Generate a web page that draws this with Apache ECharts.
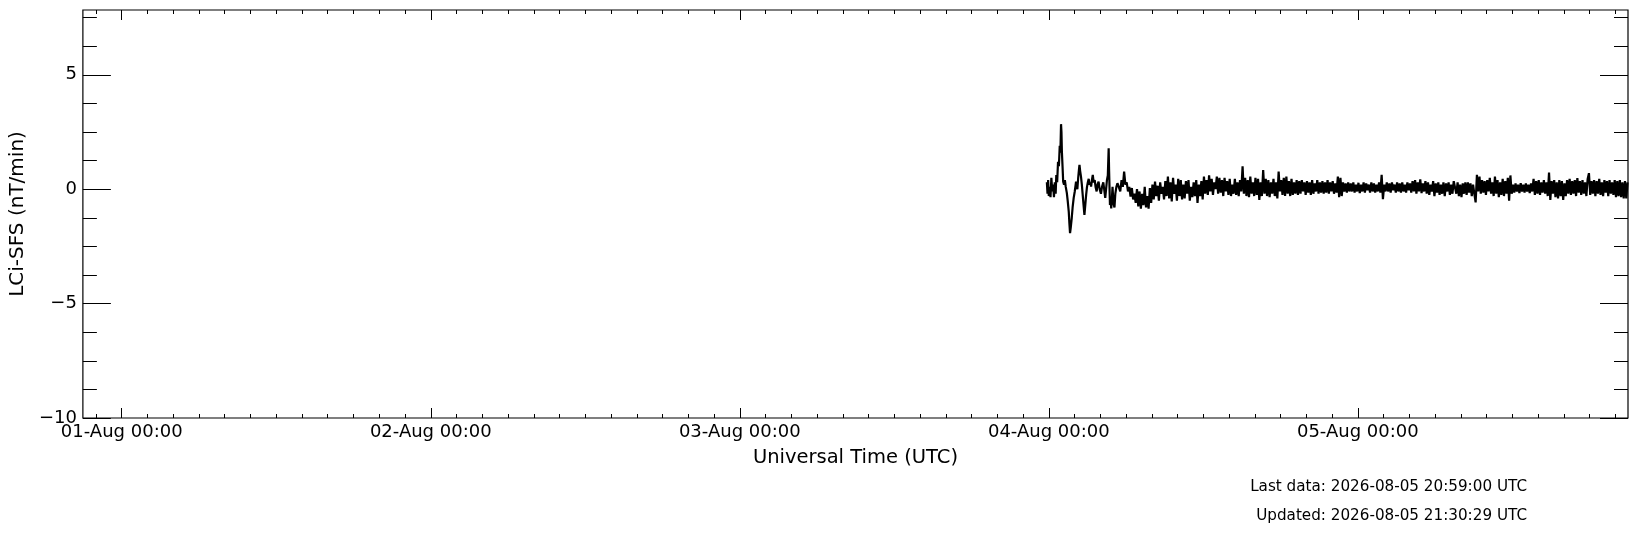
<!DOCTYPE html>
<html>
<meta charset="utf-8" />

<head>
  <script src="https://cdn.jsdelivr.net/npm/echarts@6.0.0/dist/echarts.min.js"></script>
  <style>
    html, body { margin: 0; padding: 0; background: #fff; }
    .chart { width: 1637px; height: 533px; }
  </style>
</head>

<body>
  <div class="chart" id="chart-sfs"></div>
  <script>
    // 5-day window that ends on the last data point
    const xStart = '2026-07-31T20:59:00Z';
    const xEnd = '2026-08-05T20:59:00Z';
    const dataStart = '2026-08-03T23:51:00Z';

    const xTickDays = ['2026-08-01T00:00:00Z', '2026-08-02T00:00:00Z', '2026-08-03T00:00:00Z',
      '2026-08-04T00:00:00Z', '2026-08-05T00:00:00Z'];
    const xTickLabels = ['01-Aug 00:00', '02-Aug 00:00', '03-Aug 00:00', '04-Aug 00:00', '05-Aug 00:00'];
    const xMinorHours = 2;

    const yMin = -10;
    const yMax = 7.83;
    const yMajorTicks = [-10, -5, 0, 5];
    const yMinorTicks = [-8.75, -7.5, -6.25, -3.75, -2.5, -1.25, 1.25, 2.5, 3.75, 6.25, 7.5];

    // disturbed start, minutes after dataStart
    const stormMinutes = [0, 3, 6, 9, 13, 17, 21, 25, 29, 33, 37, 41, 44, 48, 52, 56, 60, 63, 66, 68,
      70, 73, 76, 80, 84, 88, 93, 97, 102, 105, 108, 111, 116, 120, 125, 130, 136, 139, 142, 146,
      150, 152, 155, 159, 163, 167, 171, 175, 179, 183, 187, 191, 195, 199, 203, 206, 210, 214, 218, 223,
      227, 232, 236, 241, 246, 252, 257, 263, 267, 272, 276, 280, 284, 288, 290, 294, 297, 300, 303, 306,
      310, 315, 319, 324, 329];
    const stormValues = [0.3, -0.2, 0.4, -0.3, 0.1, -0.35, 0.5, -0.1, 0.2, -0.35, 0.3, -0.2, 0.62, 0.3, 1.2, 1.0, 1.9, 1.6, 2.84, 2.5,
      1.64, 1.0, 0.33, 0.2, 0.4, 0.1, -0.16, -0.5, -0.98, -1.5, -1.92, -1.7, -1.25, -0.8, -0.38, -0.1, 0.33, 0.1, 0.0, 0.5,
      0.9, 1.06, 0.8, 0.55, 0.2, -0.25, -0.7, -1.12, -0.7, -0.25, 0.1, 0.3, 0.45, 0.2, 0.3, 0.11, 0.4, 0.62, 0.3, 0.4,
      0.1, -0.1, 0.2, 0.33, 0.0, -0.2, 0.1, 0.3, 0.0, -0.38, 0.0, 0.4, 0.6, 1.79, 0.8, -0.69, -0.5, -0.84, -0.4, 0.1,
      -0.6, -0.8, -0.2, 0.1, 0.26];

    // quieter part, one value every 6 minutes from minute 336
    const quietStartMinute = 336;
    const quietStepMinutes = 6;
    const quietValues = [
      0.3, -0.1, 0.4, 0.1, 0.77, 0.2, 0.3, -0.1, 0.1, -0.32,
      0.05, -0.45, -0.2, -0.6, 0.0, -0.75, -0.1, -0.85, -0.2, -0.7,
      0.1, -0.8, -0.3, -0.85, 0.05, -0.6, 0.2, -0.45, 0.33, -0.3,
      0.15, -0.5, 0.3, -0.2, 0.1, -0.45, 0.35, -0.3, 0.55, -0.4,
      0.3, -0.54, 0.5, -0.2, 0.2, -0.5, 0.45, -0.3, 0.4, -0.45,
      0.2, -0.4, 0.35, -0.2, 0.4, -0.5, 0.1, -0.35, 0.3, -0.3,
      0.4, -0.6, 0.2, -0.3, 0.35, -0.45, 0.55, -0.2, 0.4, -0.25,
      0.6, -0.1, 0.45, -0.25, 0.3, 0.0, 0.55, -0.2, 0.5, -0.15,
      0.4, -0.3, 0.5, -0.1, 0.35, -0.25, 0.45, -0.3, 0.2, -0.2,
      0.45, -0.25, 0.3, -0.3, 0.4, -0.1, 1.0, -0.2, 0.5, -0.3,
      0.4, -0.35, 0.55, -0.2, 0.3, -0.3, 0.5, -0.25, 0.45, -0.47,
      0.3, -0.3, 0.84, -0.2, 0.45, -0.3, 0.4, -0.35, 0.3, -0.2,
      0.45, -0.3, 0.3, -0.4, 0.77, -0.1, 0.4, -0.25, 0.5, -0.3,
      0.55, -0.2, 0.35, -0.3, 0.45, -0.25, 0.3, -0.2, 0.4, -0.25,
      0.35, -0.2, 0.4, -0.1, 0.3, -0.25, 0.35, -0.15, 0.3, -0.25,
      0.4, -0.2, 0.25, -0.1, 0.4, -0.2, 0.3, -0.15, 0.35, -0.2,
      0.3, -0.15, 0.4, -0.2, 0.3, -0.1, 0.35, -0.2, 0.25, -0.15,
      0.55, -0.35, 0.5, -0.3, 0.3, -0.1, 0.25, -0.15, 0.3, -0.1,
      0.25, -0.1, 0.3, -0.15, 0.2, -0.1, 0.28, -0.17, 0.2, -0.1,
      0.3, -0.15, 0.25, -0.05, 0.2, -0.15, 0.3, -0.1, 0.25, -0.15,
      0.2, -0.1, 0.3, -0.15, 0.63, -0.44, 0.2, -0.1, 0.3, -0.1,
      0.25, -0.15, 0.3, -0.05, 0.2, -0.15, 0.3, -0.1, 0.25, -0.15,
      0.3, -0.1, 0.2, -0.15, 0.3, -0.05, 0.25, -0.15, 0.35, -0.1,
      0.4, -0.2, 0.3, -0.1, 0.43, -0.17, 0.25, -0.1, 0.35, -0.2,
      0.3, -0.25, 0.2, -0.1, 0.35, -0.3, 0.25, -0.15, 0.3, -0.25,
      0.2, -0.2, 0.3, -0.3, 0.25, -0.1, 0.3, -0.25, 0.2, -0.2,
      0.35, 0.4, -0.2, 0.3, -0.3, 0.2, -0.35, 0.25, -0.2, 0.3,
      -0.25, 0.3, -0.15, 0.25, -0.3, 0.2, -0.2, -0.58, 0.63, -0.1,
      0.55, -0.2, 0.4, -0.15, 0.35, -0.25, 0.4, -0.1, 0.5, -0.2,
      0.3, -0.3, 0.55, -0.2, 0.4, -0.35, 0.3, -0.25, 0.45, -0.3,
      0.35, -0.2, 0.5, -0.5, 0.6, -0.2, 0.2, -0.15, 0.25, -0.1,
      0.2, -0.17, 0.26, -0.1, 0.2, -0.15, 0.25, -0.1, 0.2, -0.17,
      0.25, -0.1, 0.45, -0.25, 0.35, -0.2, 0.4, -0.25, 0.3, -0.15,
      0.4, -0.2, 0.3, -0.3, 0.73, -0.47, 0.35, -0.2, 0.4, -0.35,
      0.3, -0.4, 0.4, -0.3, 0.35, -0.47, 0.25, -0.3, 0.4, -0.2,
      0.45, -0.25, 0.35, -0.2, 0.4, -0.3, 0.48, -0.15, 0.35, -0.25,
      0.4, -0.2, 0.3, -0.3, 0.45, 0.7, -0.25, 0.35, -0.2, 0.4,
      -0.3, 0.35, -0.2, 0.45, -0.25, 0.3, -0.3, 0.4, -0.15, 0.35,
      -0.3, 0.4, -0.2, 0.3, -0.25, 0.4, -0.35, 0.35, -0.3, 0.4,
      -0.35, 0.3, -0.4, 0.35, -0.4, 0.3
    ];

    const lastDataText = 'Last data: 2026-08-05 20:59:00 UTC';
    const updatedText = 'Updated: 2026-08-05 21:30:29 UTC';

    const FONT = 'DejaVu Sans';
    const MIN = 60000;

    function drawChart() {
      const t0 = Date.parse(dataStart);
      const data = [];
      stormMinutes.forEach((m, i) => data.push([t0 + m * MIN, stormValues[i]]));
      quietValues.forEach((v, i) => data.push([t0 + (quietStartMinute + i * quietStepMinutes) * MIN, v]));

      const xMin = Date.parse(xStart);
      const xMax = Date.parse(xEnd);
      const majors = xTickDays.map((d) => Date.parse(d));
      const minors = [];
      const step = xMinorHours * 60 * MIN;
      for (let t = Math.ceil(xMin / step) * step; t <= xMax; t += step) {
        if (majors.indexOf(t) < 0) minors.push(t);
      }

      const fmtY = (v) => (v < 0 ? '\u2212' + Math.abs(v) : String(v));
      const fmtX = (v) => xTickLabels[majors.indexOf(v)] || '';

      const baseX = {
        type: 'value', min: xMin, max: xMax, gridIndex: 0,
        axisLine: { show: false, onZero: false }, splitLine: { show: false },
        axisLabel: { show: false }
      };
      const baseY = {
        type: 'value', min: yMin, max: yMax, gridIndex: 0,
        axisLine: { show: false, onZero: false }, splitLine: { show: false },
        axisLabel: { show: false }
      };
      const tick = (vals, len) => ({
        show: true, inside: true, length: len, customValues: vals,
        lineStyle: { color: '#000', width: 1 }
      });

      const myChart = echarts.init(document.getElementById('chart-sfs'), null, { renderer: 'canvas' });
      const option = {
        animation: false,
        backgroundColor: '#fff',
        textStyle: { fontFamily: FONT, color: '#000' },
        grid: {
          left: 78, right: 9, top: 10, bottom: 115,
          show: true, borderColor: '#000', borderWidth: 1.2, backgroundColor: 'transparent'
        },
        xAxis: [
          {
            ...baseX, position: 'bottom',
            axisTick: tick(majors, 10),
            axisLabel: {
              show: true, customValues: majors, formatter: fmtX, margin: 5,
              fontFamily: FONT, fontSize: 18, color: '#000'
            },
            name: 'Universal Time (UTC)', nameLocation: 'middle', nameGap: 30,
            nameTextStyle: { fontFamily: FONT, fontSize: 19.5, color: '#000' }
          },
          { ...baseX, position: 'bottom', axisTick: tick(minors, 4) },
          { ...baseX, position: 'top', axisTick: tick(majors, 10) },
          { ...baseX, position: 'top', axisTick: tick(minors, 4) }
        ],
        yAxis: [
          {
            ...baseY, position: 'left',
            axisTick: tick(yMajorTicks, 28),
            axisLabel: {
              show: true, customValues: yMajorTicks, formatter: fmtY, margin: 6,
              fontFamily: FONT, fontSize: 18, color: '#000'
            },
            name: 'LCi-SFS (nT/min)', nameLocation: 'middle', nameGap: 51, nameRotate: 90,
            nameTextStyle: { fontFamily: FONT, fontSize: 20, color: '#000' }
          },
          { ...baseY, position: 'left', axisTick: tick(yMinorTicks, 14) },
          { ...baseY, position: 'right', axisTick: tick(yMajorTicks, 28) },
          { ...baseY, position: 'right', axisTick: tick(yMinorTicks, 14) }
        ],
        series: [
          {
            type: 'line', xAxisIndex: 0, yAxisIndex: 0, data: data,
            symbol: 'none', silent: true,
            lineStyle: { color: '#000', width: 2.2 }
          }
        ],
        graphic: [
          {
            type: 'text', right: 110, top: 479.5,
            style: { text: lastDataText, font: '15.2px "DejaVu Sans"', fill: '#000', textAlign: 'right' }
          },
          {
            type: 'text', right: 110, top: 509,
            style: { text: updatedText, font: '15.2px "DejaVu Sans"', fill: '#000', textAlign: 'right' }
          }
        ]
      };
      myChart.setOption(option);
    }

    drawChart();
  </script>
</body>
</html>
